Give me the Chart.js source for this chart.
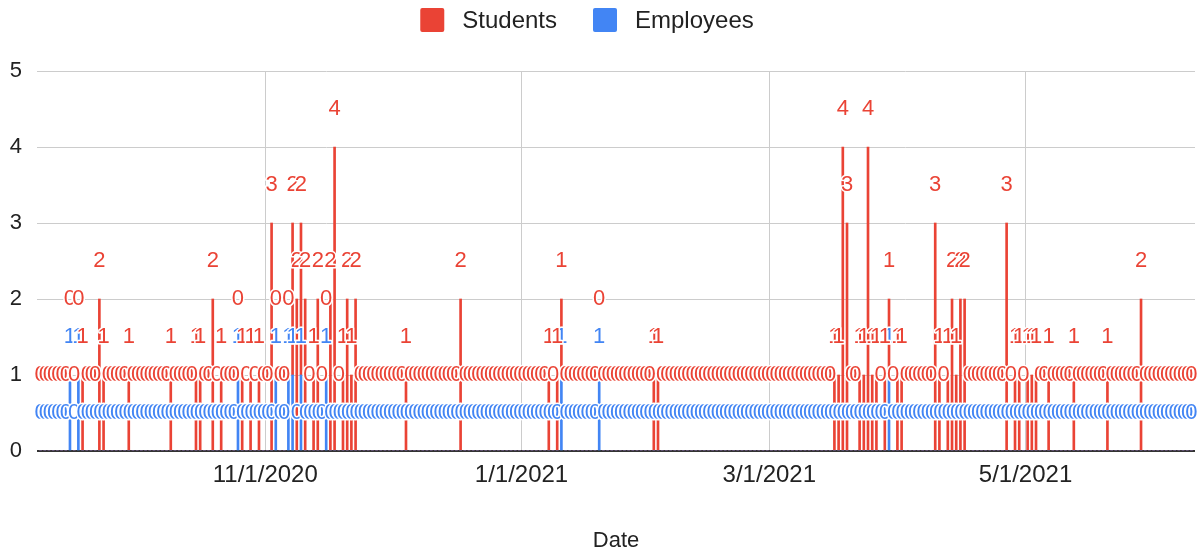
<!DOCTYPE html>
<html>
<head>
<meta charset="utf-8">
<script src="https://cdn.jsdelivr.net/npm/chart.js@4.4.1/dist/chart.umd.min.js"></script>
<style>
  html, body { margin: 0; padding: 0; background: #fff; }
  #wrap { width: 1200px; height: 554px; }
</style>
</head>
<body>
<div id="wrap"><canvas id="chart"></canvas></div>
<script>
// daily rows from firstDate to lastDate; days not listed below are 0
const firstDate = '2020-09-08';
const lastDate = '2021-06-09';

const studentDates = [
  '2020-09-18', '2020-09-22', '2020-09-23', '2020-09-29', '2020-10-09', '2020-10-15',
  '2020-10-16', '2020-10-19', '2020-10-21', '2020-10-26', '2020-10-28', '2020-10-30',
  '2020-11-02', '2020-11-07', '2020-11-08', '2020-11-09', '2020-11-10', '2020-11-12',
  '2020-11-13', '2020-11-16', '2020-11-17', '2020-11-19', '2020-11-20', '2020-11-21',
  '2020-11-22', '2020-12-04', '2020-12-17', '2021-01-07', '2021-01-09', '2021-01-10',
  '2021-02-01', '2021-02-02', '2021-03-16', '2021-03-17', '2021-03-18', '2021-03-19',
  '2021-03-22', '2021-03-23', '2021-03-24', '2021-03-25', '2021-03-26', '2021-03-28',
  '2021-03-29', '2021-03-31', '2021-04-01', '2021-04-09', '2021-04-10', '2021-04-12',
  '2021-04-13', '2021-04-14', '2021-04-15', '2021-04-16', '2021-04-26', '2021-04-28',
  '2021-04-29', '2021-05-01', '2021-05-02', '2021-05-03', '2021-05-06', '2021-05-12',
  '2021-05-20', '2021-05-28'
];
const studentCounts = [
  1, 2, 1, 1, 1, 1,
  1, 2, 1, 1, 1, 1,
  3, 2, 2, 2, 2, 1,
  2, 2, 4, 1, 2, 1,
  2, 1, 2, 1, 1, 1,
  1, 1, 1, 1, 4, 3,
  1, 1, 4, 1, 1, 1,
  1, 1, 1, 3, 1, 1,
  2, 1, 2, 2, 3, 1,
  1, 1, 1, 1, 1, 1,
  1, 2
];

const employeeDates = [
  '2020-09-15', '2020-09-17', '2020-10-25', '2020-11-03', '2020-11-06', '2020-11-07',
  '2020-11-09', '2020-11-15', '2021-01-10', '2021-01-19', '2021-03-29'
];
const employeeCounts = [1, 1, 1, 1, 1, 1, 1, 1, 1, 1, 1];

const tickDates = ['2020-11-01', '2021-01-01', '2021-03-01', '2021-05-01'];
const tickLabels = ['11/1/2020', '1/1/2021', '3/1/2021', '5/1/2021'];

const RED = '#ea4335';
const BLUE = '#4285f4';
const FONT = '"Liberation Sans", Arial, sans-serif';

function dayNum(s) {
  const p = s.split('-').map(Number);
  return Date.UTC(p[0], p[1] - 1, p[2]) / 864e5;
}

function series(dates, counts) {
  const byDay = {};
  dates.forEach((d, i) => { byDay[dayNum(d)] = counts[i]; });
  const rows = [];
  for (let t = dayNum(firstDate); t <= dayNum(lastDate); t++) {
    rows.push({ x: t + 0.5, y: byDay[t] || 0 }); // bar sits in the middle of its day
  }
  return rows;
}

// value labels: drawn left to right with a white halo, a label that lands on
// the one below it in the same column is pushed up
const barLabels = {
  id: 'barLabels',
  afterDatasetsDraw(chart) {
    const { ctx } = chart;
    const y = chart.scales.y;
    const step = y.getPixelForValue(0) - y.getPixelForValue(0.5);
    const taken = {};
    ctx.save();
    ctx.font = '22px ' + FONT;
    ctx.textAlign = 'center';
    ctx.textBaseline = 'middle';
    ctx.lineWidth = 3;
    ctx.lineJoin = 'round';
    ctx.strokeStyle = '#fff';
    chart.data.datasets.forEach((ds, di) => {
      const meta = chart.getDatasetMeta(di);
      ctx.fillStyle = ds.backgroundColor;
      meta.data.forEach((bar, i) => {
        let ly = bar.y - step;
        const col = taken[i] || (taken[i] = []);
        while (col.some(v => Math.abs(v - ly) < step * 0.8)) ly -= step;
        col.push(ly);
        const txt = String(ds.data[i].y);
        ctx.strokeText(txt, bar.x, ly);
        ctx.fillText(txt, bar.x, ly);
      });
    });
    ctx.restore();
  }
};

const topLegend = {
  id: 'topLegend',
  afterDraw(chart) {
    const { ctx } = chart;
    const items = chart.data.datasets.slice().reverse();
    const box = 24, textGap = 18, itemGap = 36, centerX = 587, midY = 20;
    ctx.save();
    ctx.font = '24px ' + FONT;
    ctx.textBaseline = 'middle';
    const widths = items.map(ds => box + textGap + ctx.measureText(ds.label).width);
    const total = widths.reduce((a, b) => a + b, 0) + itemGap * (items.length - 1);
    let x = centerX - total / 2;
    items.forEach((ds, i) => {
      ctx.fillStyle = ds.backgroundColor;
      ctx.beginPath();
      ctx.roundRect(x, midY - box / 2, box, box, 2);
      ctx.fill();
      ctx.fillStyle = '#222';
      ctx.fillText(ds.label, x + box + textGap, midY + 1);
      x += widths[i] + itemGap;
    });
    ctx.restore();
  }
};

Chart.defaults.font.family = FONT;
Chart.defaults.color = '#222';

new Chart(document.getElementById('chart'), {
  type: 'bar',
  data: {
    datasets: [
      { label: 'Employees', data: series(employeeDates, employeeCounts), backgroundColor: BLUE },
      { label: 'Students', data: series(studentDates, studentCounts), backgroundColor: RED }
    ]
  },
  options: {
    responsive: true,
    maintainAspectRatio: false,
    animation: false,
    barThickness: 2,
    layout: { padding: { top: 71, right: 5, left: 0, bottom: 0 } },
    plugins: {
      legend: { display: false },
      tooltip: { enabled: false }
    },
    scales: {
      x: {
        type: 'linear',
        stacked: true,
        offset: false,
        min: dayNum(firstDate) - 0.35,
        max: dayNum(lastDate) + 1.35,
        afterBuildTicks: s => { s.ticks = tickDates.map(d => ({ value: dayNum(d) })); },
        afterFit: s => { s.height = 103; },
        ticks: {
          callback: (v, i) => tickLabels[i],
          font: { size: 24 },
          color: '#222',
          padding: 10,
          maxRotation: 0,
          autoSkip: false
        },
        grid: { color: '#cccccc', lineWidth: 1, drawTicks: false, offset: false },
        border: { display: false },
        title: {
          display: true,
          text: 'Date',
          font: { size: 22 },
          color: '#222',
          padding: { top: 0, bottom: 0 }
        }
      },
      y: {
        stacked: true,
        min: 0,
        max: 5,
        afterFit: s => { s.width = 37; },
        ticks: { stepSize: 1, font: { size: 22 }, color: '#222', padding: 15 },
        grid: {
          color: c => (c.tick.value === 0 ? '#333333' : '#cccccc'),
          lineWidth: c => (c.tick.value === 0 ? 2 : 1),
          drawTicks: false
        },
        border: { display: false }
      }
    }
  },
  plugins: [barLabels, topLegend]
});
</script>
</body>
</html>
